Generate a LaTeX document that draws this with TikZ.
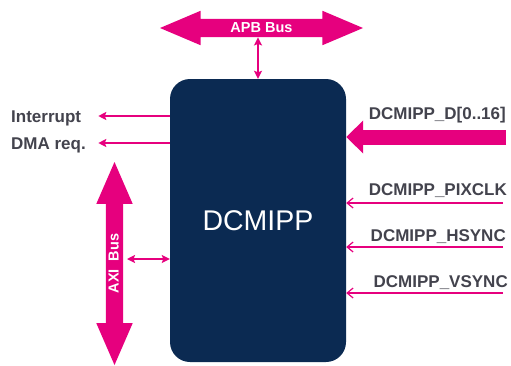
\documentclass[tikz,border=0pt]{standalone}
\usepackage{fontspec}
\setmainfont{Liberation Sans}
\usetikzlibrary{arrows.meta,positioning,shapes.arrows,calc}
\definecolor{stpink}{HTML}{E6007E}
\definecolor{stnavy}{HTML}{0B2A52}
\definecolor{pingray}{HTML}{43434D}

\begin{document}
\begin{tikzpicture}[
        x=1pt, y=-1pt,
        block/.style={
            draw=none,
            fill=stnavy,
            rounded corners=20pt,
            text=white,
            font=\fontsize{28.5}{30}\selectfont,
            minimum width=176pt,
            minimum height=283pt
        },
        bus/.style={
            double arrow,
            fill=stpink,
            text=white,
            font=\bfseries\fontsize{14.5}{15}\selectfont,
            inner xsep=0pt,
            inner ysep=0pt,
            minimum height=203pt
        },
        pin/.style={
            text=pingray,
            font=\bfseries\fontsize{17}{18}\selectfont,
            inner sep=0pt,
            text height=12.2pt,
            text depth=0pt
        },
        arrow/.style={
            stpink,
            line width=2pt,
            -{Stealth[length=8pt,width=8pt,inset=1.5pt]}
        },
        link/.style={
            stpink,
            line width=2pt,
            {Stealth[length=8pt,width=8pt,inset=1.5pt]}-{Stealth[length=8pt,width=8pt,inset=1.5pt]}
        },
        sig/.style={
            stpink,
            line width=1.2pt,
            -{Straight Barb[length=6pt,width=10pt]}
        },
        bigin/.style={
            stpink,
            line width=15pt,
            -{Triangle[length=17pt,width=32pt]}
        }
    ]
        \useasboundingbox (0,0) rectangle (511,365);

        % core block
        \node[block] (dcmipp) at (258,220.5) {DCMIPP};

        % buses
        \node[bus, text height=13.5pt, text depth=4.5pt,
              double arrow head extend=8pt, double arrow tip angle=46] (apb) at (261.5,28) {APB Bus};
        \node[bus, rotate=90, text height=12.5pt, text depth=4.5pt,
              double arrow head extend=9.5pt, double arrow tip angle=47] (axi) at (114.5,263.5) {AXI\ \ Bus};

        \draw[link] (dcmipp.north) -- (dcmipp.north |- apb.south);
        \coordinate (axilink) at (127,259);
        \draw[link] (axilink) -- (axilink -| dcmipp.west);

        % outputs
        \node[pin, anchor=west] (intr) at (11,116) {Interrupt};
        \node[pin, anchor=west] (dmareq) at (11,143) {DMA req.};
        \coordinate[right=17pt of intr] (intrend);
        \coordinate (dmaend) at (intrend |- dmareq);
        \draw[arrow] (dcmipp.west |- intr) -- (intrend);
        \draw[arrow] (dcmipp.west |- dmareq) -- (dmaend);

        % inputs
        \node[pin, anchor=east] (data) at (506,113.5) {DCMIPP\_D[0..16]};
        \coordinate (datasrc) at (506,137);
        \draw[bigin] (datasrc) -- (datasrc -| dcmipp.east);

        \node[pin, anchor=east] (pixclk) at (507,189) {DCMIPP\_PIXCLK};
        \node[pin, anchor=east] (hsync) at (506,235) {DCMIPP\_HSYNC};
        \node[pin, anchor=east] (vsync) at (508,281) {DCMIPP\_VSYNC};
        \coordinate (pixsrc) at (503,203);
        \coordinate (hsrc) at (503,247);
        \coordinate (vsrc) at (503,293);
        \draw[sig] (pixsrc) -- (pixsrc -| dcmipp.east);
        \draw[sig] (hsrc) -- (hsrc -| dcmipp.east);
        \draw[sig] (vsrc) -- (vsrc -| dcmipp.east);

    \end{tikzpicture}
\end{document}
